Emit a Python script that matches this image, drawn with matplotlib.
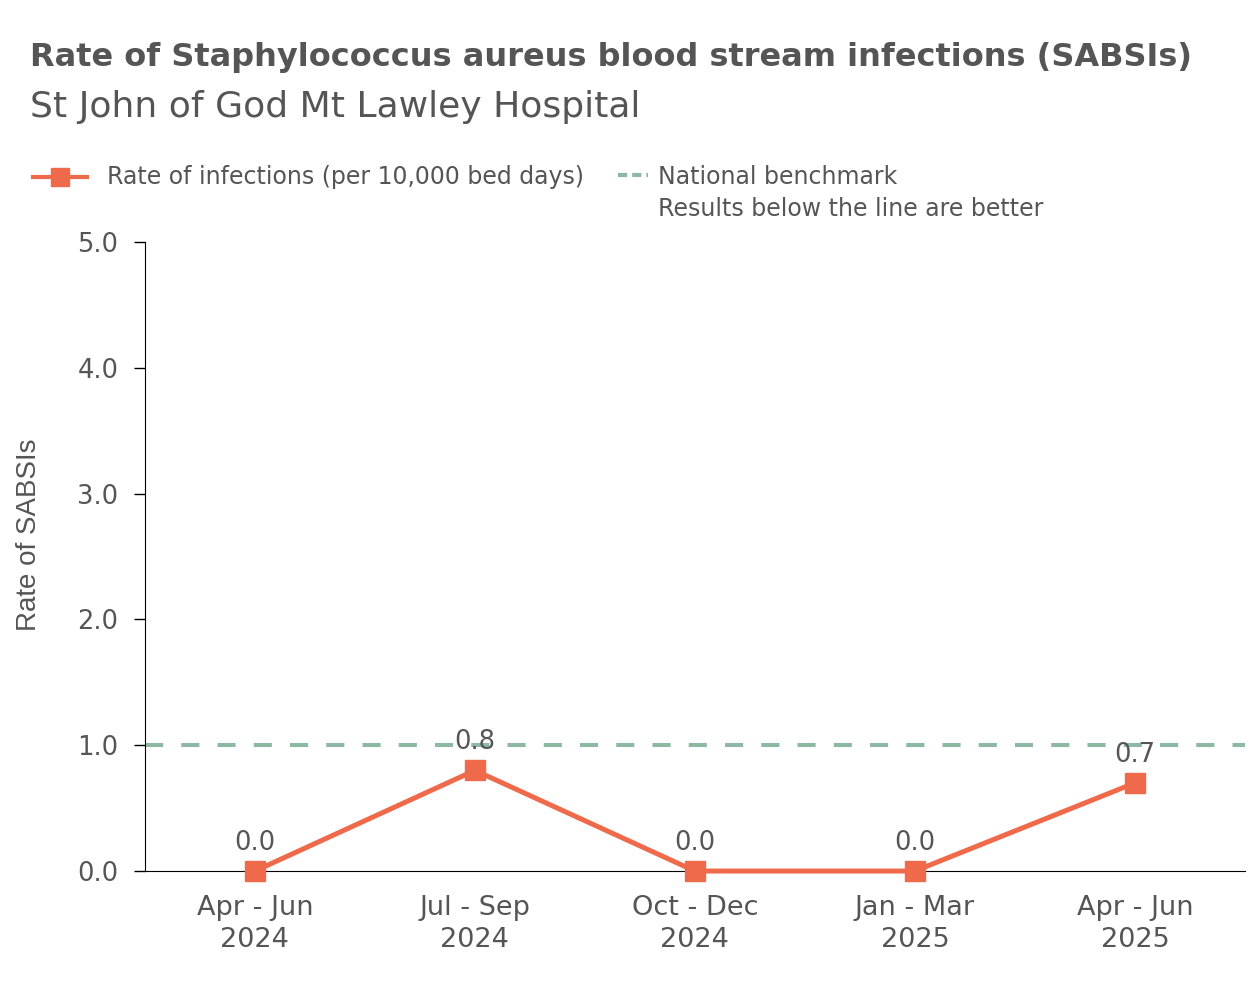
import numpy as np
import matplotlib.pyplot as plt
from matplotlib.lines import Line2D

periodos = ['Apr - Jun\n2024', 'Jul - Sep\n2024', 'Oct - Dec\n2024', 'Jan - Mar\n2025', 'Apr - Jun\n2025']
tasas = [0.0, 0.8, 0.0, 0.0, 0.7]
benchmark = 1.0
yticks = [0.0, 1.0, 2.0, 3.0, 4.0, 5.0]

naranja = '#EE6A4A'
verde = '#8DB9A4'
gris = '#555555'

plt.rcParams['font.family'] = ['DejaVu Sans']

fig = plt.figure(figsize=(12.6, 9.81), dpi=100)
ax = fig.add_axes([0.115, 0.1121, 0.873, 0.6412])

x = np.arange(len(periodos))
ax.axhline(benchmark, color=verde, lw=2.9, dashes=(4.5, 4.5), zorder=1)
ax.plot(x, tasas, color=naranja, lw=3.6, marker='s', markersize=14, zorder=3, clip_on=False)

# Etiquetas de valor
for xi, v in zip(x, tasas):
    ax.text(xi, v + 0.12, f'{v:.1f}', ha='center', va='bottom', fontsize=18.5, color=gris)

ax.set_xlim(-0.5, 4.5)
ax.set_ylim(0, 5)
ax.set_xticks(x)
ax.set_xticklabels(periodos, fontsize=19.5, color=gris, linespacing=1.3)
ax.set_yticks(yticks)
ax.set_yticklabels([f'{t:.1f}' for t in yticks], fontsize=18.5, color=gris)
ax.tick_params(axis='x', length=0, pad=17)
ax.tick_params(axis='y', length=8, width=1, pad=11)
ax.spines['top'].set_visible(False)
ax.spines['right'].set_visible(False)
ax.set_ylabel('Rate of SABSIs', fontsize=20, color=gris, family='Liberation Sans')
ax.yaxis.set_label_coords(-0.094, 0.534)

fig.text(0.024, 0.941, 'Rate of Staphylococcus aureus blood stream infections (SABSIs)',
         fontsize=23, fontweight='bold', color=gris, va='center')
fig.text(0.024, 0.891, 'St John of God Mt Lawley Hospital',
         fontsize=26, color=gris, va='center')

# Leyenda dibujada a mano en coordenadas de figura
ly = 1 - 177 / 981
fig.add_artist(Line2D([33 / 1260, 87 / 1260], [ly, ly], color=naranja, lw=3,
                      transform=fig.transFigure))
fig.add_artist(Line2D([60 / 1260], [ly], color=naranja, marker='s', markersize=13,
                      transform=fig.transFigure))
fig.text(107 / 1260, ly, 'Rate of infections (per 10,000 bed days)', fontsize=17,
         color=gris, va='center')
fig.add_artist(Line2D([618 / 1260, 648 / 1260], [ly + 0.002, ly + 0.002], color=verde, lw=3,
                      dashes=(2.2, 1.2), transform=fig.transFigure))
fig.text(658 / 1260, ly, 'National benchmark', fontsize=17, color=gris, va='center')
fig.text(658 / 1260, 1 - 209 / 981, 'Results below the line are better', fontsize=17,
         color=gris, va='center')

fig.savefig('out.png', dpi=100)
